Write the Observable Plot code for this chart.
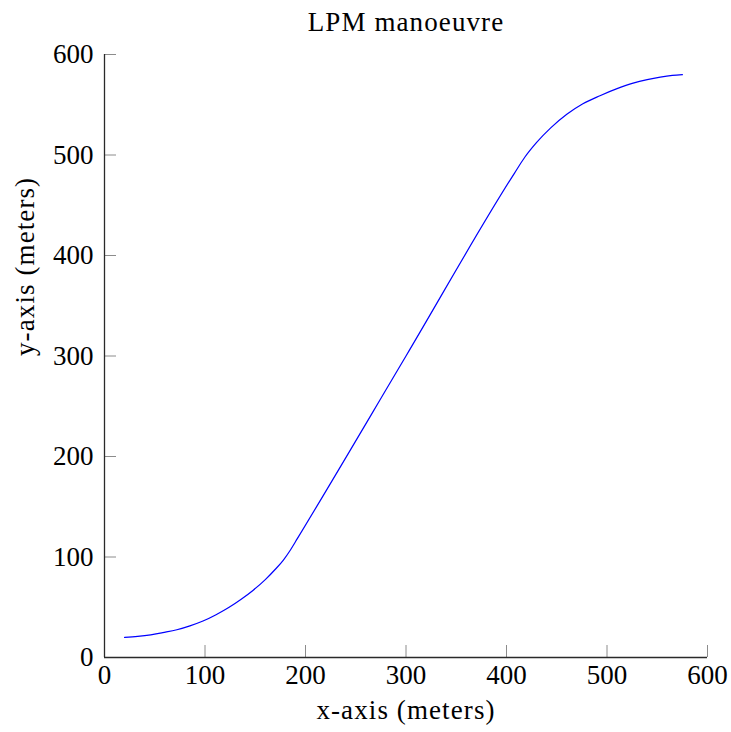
<!DOCTYPE html>
<html>
<head>
<meta charset="utf-8">
<script src="https://cdn.jsdelivr.net/npm/d3@7"></script>
<script src="https://cdn.jsdelivr.net/npm/@observablehq/plot@0.6"></script>
<style>
  html, body { margin: 0; padding: 0; background: #fff; }
  svg text { font-family: "Liberation Serif", "DejaVu Serif", serif; }
</style>
</head>
<body>
<div id="chart"></div>
<script>
// Ground track of the manoeuvre (metres)
const pathX = [20, 33, 46, 58, 72, 85, 98, 111, 124, 136, 148, 160, 170, 178, 185, 192,
               300, 408, 418, 430, 444, 460, 476, 493, 510, 526, 540, 553, 565, 575];
const pathY = [20, 21, 22.6, 24.8, 27.6, 31.5, 36.3, 42.6, 50, 58, 67, 77.5, 87.8, 97, 107, 118.5,
               300, 482, 497.5, 512.5, 527, 540.5, 551, 559, 566, 571.5, 575, 577.5, 579.2, 580];

const xTicks = [0, 100, 200, 300, 400, 500, 600];
const yTicks = [0, 100, 200, 300, 400, 500, 600];

const titleText = "LPM manoeuvre";
const xLabel = "x-axis (meters)";
const yLabel = "y-axis (meters)";

const path = pathX.map((x, i) => ({x, y: pathY[i]}));
const fontSize = 27;
const fontFamily = "Liberation Serif, DejaVu Serif, serif";

const chart = Plot.plot({
  width: 731,
  height: 732,
  marginLeft: 104,
  marginRight: 24,
  marginTop: 54,
  marginBottom: 75,
  style: {fontFamily, fontSize: `${fontSize}px`, background: "#fff", color: "#000"},
  x: {domain: [0, 600]},
  y: {domain: [0, 600]},
  marks: [
    // inward-pointing tick marks
    Plot.axisX({ticks: xTicks, tickSize: -12, fill: "none", stroke: "#8c8c8c", strokeWidth: 1}),
    Plot.axisY({ticks: yTicks, tickSize: -12, fill: "none", stroke: "#8c8c8c", strokeWidth: 1}),
    // tick labels
    Plot.axisX({ticks: xTicks, tickSize: 0, tickPadding: 7, label: null, fontSize, fontFamily, fill: "#000"}),
    Plot.axisY({ticks: yTicks, tickSize: 0, tickPadding: 11, label: null, fontSize, fontFamily, fill: "#000"}),
    // axis lines
    Plot.ruleX([0], {stroke: "#2a2a2a", strokeWidth: 1.3}),
    Plot.ruleY([0], {stroke: "#2a2a2a", strokeWidth: 1.3}),
    // trajectory
    Plot.line(path, {x: "x", y: "y", stroke: "#0000ff", strokeWidth: 1.2, curve: "monotone-x"}),
    // title and axis titles
    Plot.text([titleText], {frameAnchor: "top", dy: -24, lineAnchor: "bottom", fontSize, fontFamily, fill: "#000"}),
    Plot.text([xLabel], {frameAnchor: "bottom", dy: 61, lineAnchor: "bottom", fontSize, fontFamily, fill: "#000"}),
    Plot.text([yLabel], {frameAnchor: "left", dx: -71, rotate: -90, lineAnchor: "bottom", fontSize, fontFamily, fill: "#000"})
  ]
});

document.getElementById("chart").appendChild(chart);

// Computer Modern style text runs a little wider than Times; widen the titles slightly
d3.select(chart).selectAll('g[aria-label="text"] text').style("letter-spacing", "1.1px");
</script>
</body>
</html>
